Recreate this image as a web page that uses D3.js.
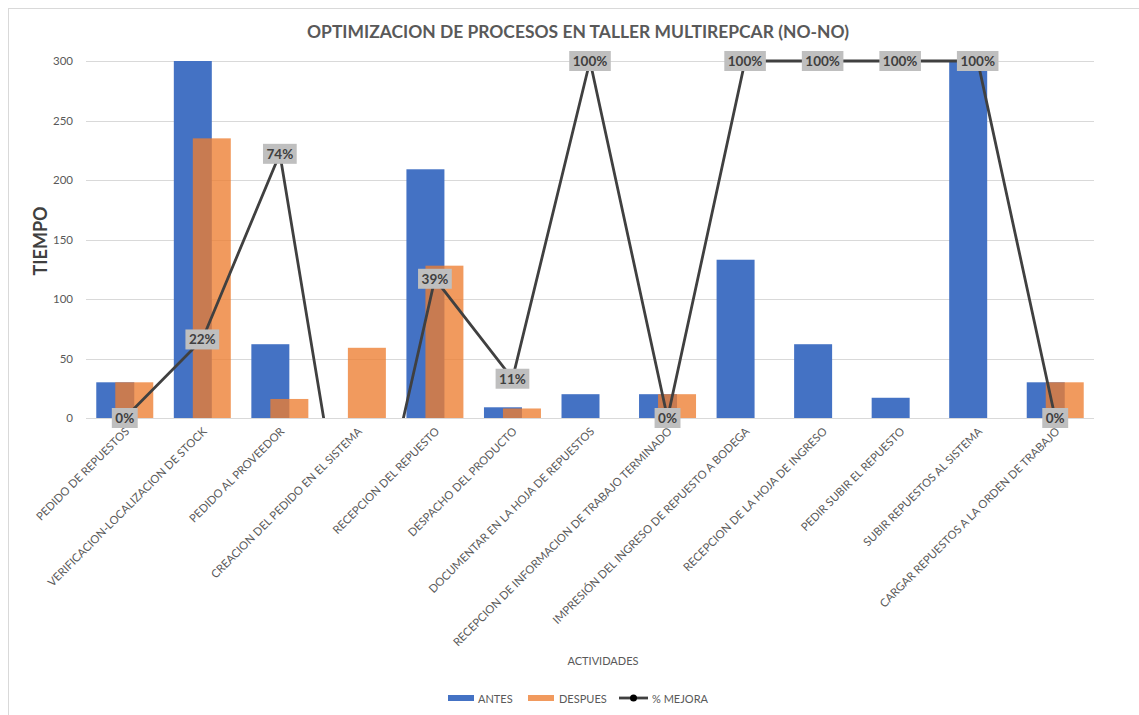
<!DOCTYPE html>
<html>
<head>
<meta charset="utf-8">
<script src="https://cdn.jsdelivr.net/npm/d3@7"></script>
<style>
  html, body { margin: 0; padding: 0; background: #fff; }
  svg { display: block; font-family: Lato, "Open Sans", sans-serif; }
</style>
</head>
<body>
<svg id="chart" width="1139" height="715"></svg>
<script>
const categories = [
  "PEDIDO DE REPUESTOS",
  "VERIFICACION-LOCALIZACION DE STOCK",
  "PEDIDO AL PROVEEDOR",
  "CREACION DEL PEDIDO EN EL SISTEMA",
  "RECEPCION DEL REPUESTO",
  "DESPACHO DEL PRODUCTO",
  "DOCUMENTAR EN LA HOJA DE REPUESTOS",
  "RECEPCION DE INFORMACION DE TRABAJO TERMINADO",
  "IMPRESIÓN DEL INGRESO DE REPUESTO A BODEGA",
  "RECEPCION DE LA HOJA DE INGRESO",
  "PEDIR SUBIR EL REPUESTO",
  "SUBIR REPUESTOS AL SISTEMA",
  "CARGAR REPUESTOS A LA ORDEN DE TRABAJO"
];
const antes   = [30, 300, 62, 0, 209, 9, 20, 20, 133, 62, 17, 300, 30];
const despues = [30, 235, 16, 59, 128, 8, 0, 20, 0, 0, 0, 0, 30];
const mejora  = [0, 0.22, 0.74, -0.57, 0.39, 0.11, 1, 0, 1, 1, 1, 1, 0];
const yTicks  = [0, 50, 100, 150, 200, 250, 300];
const title   = "OPTIMIZACION DE PROCESOS EN TALLER MULTIREPCAR (NO-NO)";
const yTitle  = "TIEMPO";
const xTitle  = "ACTIVIDADES";
const seriesNames = ["ANTES", "DESPUES", "% MEJORA"];

const C_BLUE = "#4472C4", C_ORANGE = "#ED7D31", C_LINE = "#404040", C_TEXT = "#595959", C_GRID = "#D9D9D9";

const svg = d3.select("#chart");
const M = {left: 86, right: 1094, top: 61, bottom: 418};

// chart border
svg.append("rect").attr("x", 8.5).attr("y", 8.5).attr("width", 1200).attr("height", 800)
  .attr("fill", "none").attr("stroke", C_GRID).attr("stroke-width", 1);

const x = d3.scaleBand().domain(categories).range([M.left, M.right]).paddingInner(0).paddingOuter(0);
const y = d3.scaleLinear().domain([0, 300]).range([M.bottom, M.top]);
const y2 = d3.scaleLinear().domain([0, 1]).range([M.bottom, M.top]);
const bw = x.bandwidth();
const barW = bw * 0.49;
const cx = c => x(c) + bw / 2;

// gridlines
svg.append("g").selectAll("line").data(yTicks.filter(t => t > 0)).join("line")
  .attr("x1", M.left).attr("x2", M.right)
  .attr("y1", d => Math.round(y(d)) + 0.5).attr("y2", d => Math.round(y(d)) + 0.5)
  .attr("stroke", C_GRID).attr("stroke-width", 1);

// y axis labels
const yAxis = d3.axisLeft(y).tickValues(yTicks).tickSize(0).tickPadding(0);
const gy = svg.append("g").attr("transform", `translate(${M.left - 13},0)`).call(yAxis);
gy.select(".domain").remove();
gy.selectAll("text").attr("fill", C_TEXT).style("font-size", "11.5px").style("font-family", "Lato, sans-serif");

// bars
const gBars = svg.append("g");
gBars.selectAll("rect.antes").data(categories).join("rect").attr("class", "antes")
  .attr("x", (c) => cx(c) - barW * 0.75)
  .attr("width", barW)
  .attr("y", (c, i) => y(antes[i]))
  .attr("height", (c, i) => y(0) - y(antes[i]))
  .attr("fill", C_BLUE);
gBars.selectAll("rect.despues").data(categories).join("rect").attr("class", "despues")
  .attr("x", (c) => cx(c) - barW * 0.25)
  .attr("width", barW)
  .attr("y", (c, i) => y(despues[i]))
  .attr("height", (c, i) => y(0) - y(despues[i]))
  .attr("fill", C_ORANGE).attr("fill-opacity", 0.78);

// x axis line
svg.append("line").attr("x1", M.left).attr("x2", M.right)
  .attr("y1", M.bottom + 0.5).attr("y2", M.bottom + 0.5)
  .attr("stroke", C_GRID).attr("stroke-width", 1);

// x labels
const xAxis = d3.axisBottom(x).tickSize(0).tickPadding(0);
const gx = svg.append("g").attr("transform", `translate(0,${M.bottom})`).call(xAxis);
gx.select(".domain").remove();
gx.selectAll(".tick text")
  .attr("fill", C_TEXT)
  .style("font-size", "10px").style("font-family", "Lato, sans-serif")
  .attr("text-anchor", "end")
  .attr("dominant-baseline", "central")
  .attr("y", 0).attr("dy", 0)
  .attr("transform", "translate(2,11) rotate(-45)");
// fit label font size to the reference width of one label
(function () {
  const t = gx.selectAll(".tick text").filter(d => d === categories[3]).node();
  const len = t.getComputedTextLength();
  const fs = 10 * 208 / len;
  gx.selectAll(".tick text").style("font-size", fs.toFixed(2) + "px");
})();

// line (clipped to plot area)
svg.append("clipPath").attr("id", "plotclip").append("rect")
  .attr("x", 0).attr("y", 0).attr("width", 1139).attr("height", M.bottom);
const line = d3.line().x((d, i) => cx(categories[i])).y(d => y2(d));
svg.append("path").datum(mejora).attr("d", line)
  .attr("fill", "none").attr("stroke", C_LINE).attr("stroke-width", 2.8)
  .attr("stroke-linejoin", "miter")
  .attr("clip-path", "url(#plotclip)");

// data labels
const gLab = svg.append("g");
mejora.forEach((v, i) => {
  if (v < 0) return;
  const px = cx(categories[i]), py = y2(v);
  const g = gLab.append("g");
  const t = g.append("text").text(d3.format(".0%")(v))
    .attr("x", px).attr("y", py).attr("text-anchor", "middle").attr("dominant-baseline", "central")
    .attr("fill", C_LINE).style("font-size", "13.5px").style("font-weight", "bold");
  const w = t.node().getComputedTextLength();
  g.insert("rect", "text").attr("x", px - w / 2 - 3.5).attr("y", py - 10)
    .attr("width", w + 7).attr("height", 20).attr("fill", "#BFBFBF");
});

// title
const tt = svg.append("text").text(title).attr("x", 578).attr("y", 38)
  .attr("text-anchor", "middle").attr("fill", C_TEXT)
  .style("font-size", "17px").style("font-weight", "bold");
(function () {
  const len = tt.node().getComputedTextLength();
  tt.style("font-size", (17 * 542 / len).toFixed(2) + "px");
})();

// y title
svg.append("text").text(yTitle)
  .attr("transform", "translate(47,241) rotate(-90)")
  .attr("text-anchor", "middle").attr("fill", C_LINE)
  .style("font-size", "18px").style("font-weight", "bold");

// x title
svg.append("text").text(xTitle).attr("x", 603).attr("y", 665)
  .attr("text-anchor", "middle").attr("fill", C_TEXT).style("font-size", "11px");

// legend
const lg = svg.append("g").attr("transform", "translate(0,698)");
lg.append("rect").attr("x", 448).attr("y", -3).attr("width", 26).attr("height", 6).attr("fill", C_BLUE);
lg.append("text").text(seriesNames[0]).attr("x", 478).attr("y", 0).attr("dominant-baseline", "central")
  .attr("fill", C_TEXT).style("font-size", "11px");
lg.append("rect").attr("x", 528).attr("y", -3).attr("width", 26).attr("height", 6).attr("fill", C_ORANGE).attr("fill-opacity", 0.78);
lg.append("text").text(seriesNames[1]).attr("x", 559).attr("y", 0).attr("dominant-baseline", "central")
  .attr("fill", C_TEXT).style("font-size", "11px");
lg.append("line").attr("x1", 619).attr("x2", 648).attr("y1", 0).attr("y2", 0).attr("stroke", C_LINE).attr("stroke-width", 2.8);
lg.append("circle").attr("cx", 633.5).attr("cy", 0).attr("r", 3.5).attr("fill", "#000");
lg.append("text").text(seriesNames[2]).attr("x", 652).attr("y", 0).attr("dominant-baseline", "central")
  .attr("fill", C_TEXT).style("font-size", "11px");
</script>
</body>
</html>
